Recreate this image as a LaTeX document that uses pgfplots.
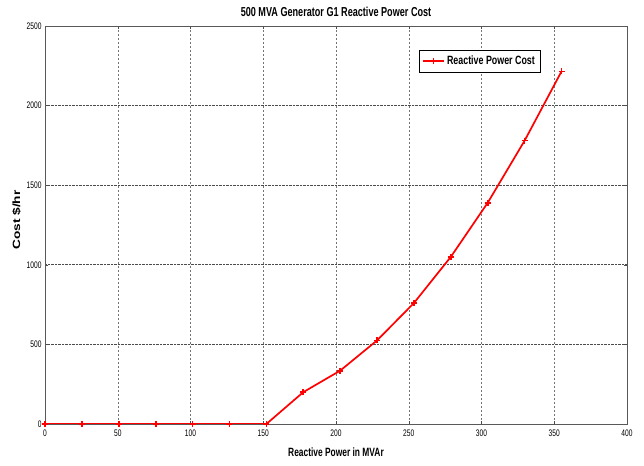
\documentclass[border=0pt]{standalone}
\usepackage{fontspec}
\setmainfont{Liberation Sans}
\newfontfamily\narrowfont[FakeStretch=0.70]{Liberation Sans}
\newfontfamily\legendfont[FakeStretch=0.74]{Liberation Sans}
\newfontfamily\widefont[FakeStretch=1.3]{Liberation Sans}
\usepackage{pgfplots}
\pgfplotsset{compat=1.18}

\pgfplotstableread{
q cost
0      0
25.36  0
50.71  0
76.07  0
101.43 0
126.79 0
152.14 0
177.50 200
202.86 335
228.21 525
253.57 760
278.93 1050
304.29 1390
329.64 1780
355.00 2215
}\costdata

\begin{document}
\begin{tikzpicture}
\begin{axis}[
  at={(0,0)}, anchor=south west,
  scale only axis,
  width=582pt, height=398pt,
  xmin=0, xmax=400, ymin=0, ymax=2500,
  xtick={0,50,...,400},
  ytick={0,500,...,2500},
  tick align=inside,
  major tick length=3pt,
  tick style={black!70, line width=0.4pt},
  axis line style={black!65, line width=0.7pt},
  xmajorgrids, ymajorgrids,
  x grid style={black!55, dash pattern=on 2pt off 2pt, line width=0.5pt},
  y grid style={black!70, densely dotted, line width=0.6pt},
  ticklabel style={font=\narrowfont\fontsize{9.5}{10}\selectfont},
  xticklabel style={yshift=-2pt},
  /pgf/number format/assume math mode=true,
  /pgf/number format/1000 sep={},
  xlabel={\narrowfont\bfseries\fontsize{12}{14}\selectfont Reactive Power in MVAr},
  ylabel={\widefont\bfseries\fontsize{10.5}{12}\selectfont Cost \$/hr},
  xlabel style={at={(rel axis cs:0.5,0)}, anchor=base, yshift=-32pt},
  ylabel style={xshift=5pt, yshift=-1pt},
  title={\narrowfont\bfseries\fontsize{13}{15}\selectfont 500 MVA Generator G1 Reactive Power Cost},
  title style={at={(rel axis cs:0.5,1)}, anchor=base, yshift=3pt},
  legend style={at={(rel axis cs:0.642,0.94)}, anchor=north west,
    draw=black, line width=0.7pt, inner xsep=3pt, inner ysep=4pt,
    font=\legendfont\bfseries\fontsize{12}{14}\selectfont},
  legend cell align=left,
  legend image code/.code={
    \draw[draw=red, line width=1.7pt] (0cm,0cm) -- (0.75cm,0cm);
    \draw[draw=red, line width=1.7pt] (0.375cm,-3pt) -- (0.375cm,3pt);
  },
]
\addplot[red, line width=1.7pt, mark=+, mark size=3pt,
  mark options={line width=1.7pt}] table[x=q, y=cost] {\costdata};
\addlegendentry{Reactive Power Cost}
\end{axis}
\pgfresetboundingbox
\path (-45pt,-41pt) rectangle (599pt,424pt);
\end{tikzpicture}
\end{document}
